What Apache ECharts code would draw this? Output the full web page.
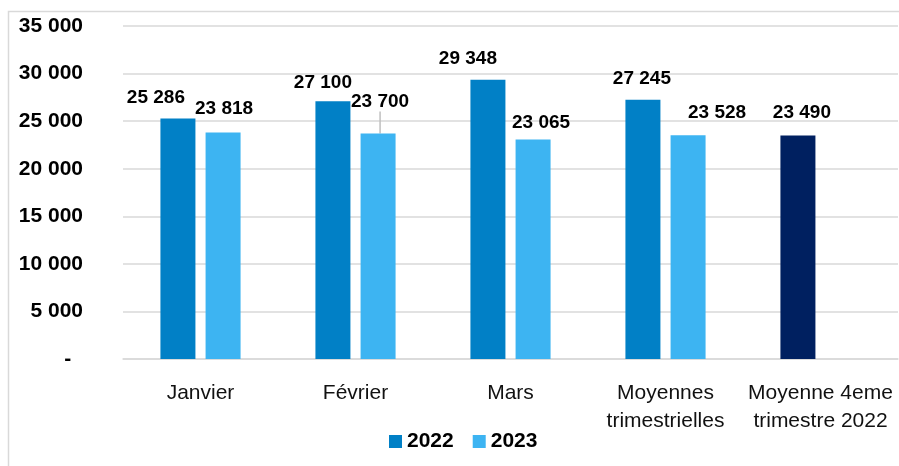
<!DOCTYPE html>
<html><head><meta charset="utf-8">
<script src="https://cdn.jsdelivr.net/npm/echarts@6/dist/echarts.min.js"></script>
<style>html,body{margin:0;padding:0;background:#fff}#c{width:899px;height:466px}</style>
</head><body><div id="c"></div>
<script>
const categories = ['Janvier', 'Février', 'Mars', 'Moyennes\ntrimestrielles', 'Moyenne 4eme\ntrimestre 2022'];
const values2022 = [25286, 27100, 29348, 27245, 23490];
const values2023 = [23818, 23700, 23065, 23528, null];
const yTicks = [0, 5000, 10000, 15000, 20000, 25000, 30000, 35000];
const seriesNames = ['2022', '2023'];

// label placement tweaks (layout only)
const labelShift = [
  [[-22, -6], [-10, -4], [-20, -7], [-1, -7], [4, -8]],
  [[1, -9], [2, -17], [8, -2], [29, -8], [0, 0]]
];
const leaderLines = { '1-1': true };

const C2022 = '#0180C6', C2023 = '#3DB4F2', CNAVY = '#002060';
const fmt = v => v === 0 ? '-  ' : String(v).replace(/\B(?=(\d{3})+(?!\d))/g, ' ');

const chart = echarts.init(document.getElementById('c'));
const mk = (vals, si) => vals.map((v, i) => {
  const d = { value: v };
  if (si === 0 && i === vals.length - 1) d.itemStyle = { color: CNAVY };
  if (leaderLines[si + '-' + i]) d.labelLine = { show: true, lineStyle: { color: '#bfbfbf', width: 1.5 } };
  return d;
});
chart.setOption({
  animation: false,
  textStyle: { fontFamily: 'Liberation Sans' },
  graphic: [{ type: 'rect', shape: { x: 8.5, y: 11.5, width: 900, height: 470 }, style: { fill: 'none', stroke: '#d9d9d9', lineWidth: 1.5 }, silent: true }],
  grid: { left: 123, right: 1, top: 26, bottom: 107 },
  legend: {
    left: 384, top: 426, itemWidth: 13, itemHeight: 13, itemGap: 19,
    icon: 'rect',
    textStyle: { fontSize: 21, fontWeight: 'bold', color: '#000', fontFamily: 'Liberation Sans' },
    data: seriesNames
  },
  xAxis: {
    type: 'category', data: categories,
    axisLine: { lineStyle: { color: '#d9d9d9', width: 1.5 } },
    axisTick: { show: false },
    axisLabel: { fontSize: 21, color: '#111', lineHeight: 28, margin: 20, interval: 0, fontFamily: 'Liberation Sans' }
  },
  yAxis: {
    type: 'value', min: 0, max: yTicks[yTicks.length - 1], interval: yTicks[1] - yTicks[0],
    axisLine: { show: false }, axisTick: { show: false },
    splitLine: { lineStyle: { color: '#d9d9d9', width: 1.5 } },
    axisLabel: { fontSize: 21, fontWeight: 'bold', color: '#000', margin: 40, formatter: fmt, fontFamily: 'Liberation Sans' }
  },
  series: [
    { name: seriesNames[0], type: 'bar', data: mk(values2022, 0), barWidth: 35, barGap: '29%', itemStyle: { color: C2022 } },
    { name: seriesNames[1], type: 'bar', data: mk(values2023, 1), barWidth: 35, barGap: '29%', itemStyle: { color: C2023 } }
  ].map((s, si) => Object.assign(s, {
    label: { show: true, position: 'top', distance: 5, fontSize: 19, fontWeight: 'bold', color: '#000', formatter: p => fmt(p.value), fontFamily: 'Liberation Sans' },
    labelLayout: p => { const o = labelShift[si][p.dataIndex]; return { dx: o[0], dy: o[1] }; }
  }))
});
</script></body></html>
